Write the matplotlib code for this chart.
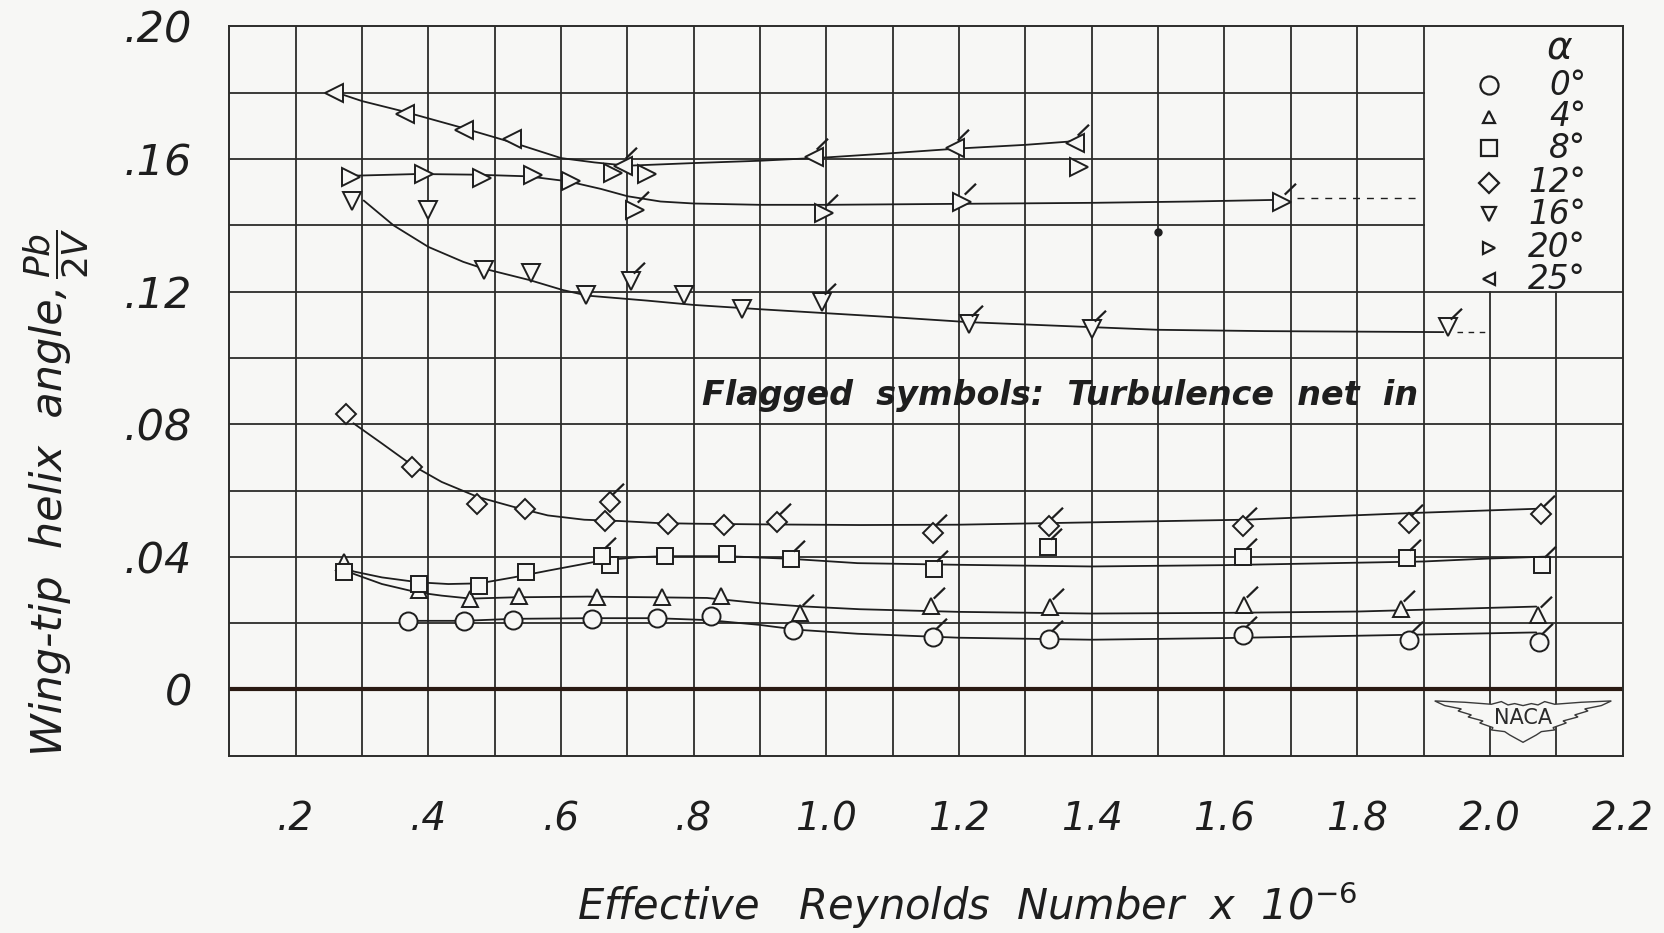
import numpy as np
import matplotlib
matplotlib.use("Agg")
import matplotlib.pyplot as plt
from matplotlib.path import Path
from matplotlib.patches import Polygon

# ------------------------------------------------------------------ data
# Reynolds number (x 10^-6) and wing-tip helix angle pb/2V
# alpha = 0 deg (circles)
a0_x = [0.369, 0.453, 0.527, 0.647, 0.744, 0.826, 0.950]
a0_y = [0.0207, 0.0207, 0.0209, 0.0212, 0.0217, 0.0222, 0.0178]
a0_fx = [1.161, 1.335, 1.628, 1.878, 2.074]
a0_fy = [0.0159, 0.0152, 0.0165, 0.0149, 0.0142]
a0_cx = [0.378, 0.453, 0.528, 0.646, 0.743, 0.823, 0.898, 0.957, 1.047, 1.20, 1.40, 1.60, 1.80, 2.07]
a0_cy = [0.0207, 0.0207, 0.0213, 0.0215, 0.0215, 0.0209, 0.0195, 0.0180, 0.0168, 0.0156, 0.0150, 0.0155, 0.0162, 0.0172]

# alpha = 4 deg (triangles up)
a4_x = [0.273, 0.386, 0.463, 0.537, 0.654, 0.752, 0.841]
a4_y = [0.0385, 0.0300, 0.0273, 0.0283, 0.0280, 0.0278, 0.0283]
a4_fx = [0.960, 1.157, 1.337, 1.630, 1.866, 2.073]
a4_fy = [0.0231, 0.0251, 0.0250, 0.0255, 0.0244, 0.0224]
a4_cx = [0.28, 0.33, 0.383, 0.42, 0.464, 0.53, 0.64, 0.74, 0.82, 0.90, 0.96, 1.05, 1.20, 1.40, 1.60, 1.80, 2.07]
a4_cy = [0.0354, 0.0318, 0.0293, 0.0283, 0.0274, 0.0278, 0.0280, 0.0278, 0.0276, 0.0260, 0.0251, 0.0242, 0.0234, 0.0229, 0.0231, 0.0235, 0.0250]

# alpha = 8 deg (squares)
a8_x = [0.273, 0.386, 0.477, 0.547, 0.673, 0.756, 0.850]
a8_y = [0.0354, 0.0318, 0.0313, 0.0354, 0.0374, 0.0402, 0.0409]
a8_fx = [0.662, 0.946, 1.162, 1.334, 1.628, 1.875, 2.079]
a8_fy = [0.0402, 0.0394, 0.0363, 0.0431, 0.0399, 0.0396, 0.0376]
a8_cx = [0.28, 0.33, 0.386, 0.43, 0.477, 0.528, 0.582, 0.662, 0.716, 0.756, 0.85, 0.946, 1.047, 1.20, 1.40, 1.60, 1.90, 2.00, 2.09]
a8_cy = [0.0359, 0.0338, 0.0323, 0.0318, 0.0320, 0.0338, 0.0359, 0.0389, 0.0399, 0.0402, 0.0402, 0.0394, 0.0381, 0.0376, 0.0371, 0.0375, 0.0386, 0.0395, 0.0401]

# alpha = 12 deg (diamonds)
a12_x = [0.276, 0.375, 0.474, 0.545, 0.666, 0.761, 0.846]
a12_y = [0.0831, 0.0670, 0.0558, 0.0545, 0.0507, 0.0500, 0.0495]
a12_fx = [0.674, 0.925, 1.160, 1.335, 1.628, 1.878, 2.077]
a12_fy = [0.0566, 0.0505, 0.0472, 0.0492, 0.0492, 0.0502, 0.0530]
a12_cx = [0.287, 0.33, 0.375, 0.42, 0.474, 0.528, 0.58, 0.635, 0.69, 0.745, 0.80, 0.90, 1.05, 1.20, 1.34, 1.63, 1.88, 2.07]
a12_cy = [0.0803, 0.0742, 0.0677, 0.0626, 0.0581, 0.0551, 0.0525, 0.0512, 0.0508, 0.0502, 0.0500, 0.0498, 0.0496, 0.0497, 0.0502, 0.0512, 0.0532, 0.0545]

# alpha = 16 deg (triangles down)
a16_x = [0.285, 0.400, 0.484, 0.555, 0.638, 0.785, 0.872]
a16_y = [0.1475, 0.1445, 0.1265, 0.1255, 0.1190, 0.1190, 0.1148]
a16_fx = [0.706, 0.993, 1.215, 1.400, 1.937]
a16_fy = [0.1232, 0.1169, 0.1103, 0.1087, 0.1092]
a16_cx = [0.3025, 0.3475, 0.400, 0.4525, 0.4825, 0.5525, 0.6025, 0.64, 0.73, 0.80, 0.90, 1.00, 1.10, 1.215, 1.40, 1.50, 1.66, 1.93]
a16_cy = [0.1475, 0.1400, 0.1335, 0.1290, 0.1270, 0.1235, 0.1205, 0.1188, 0.1173, 0.1160, 0.1147, 0.1135, 0.1123, 0.1108, 0.1093, 0.1085, 0.1081, 0.1078]
a16_dx = [1.95, 2.00]
a16_dy = [0.1078, 0.1078]

# alpha = 20 deg (triangles right)
a20_x = [0.283, 0.394, 0.481, 0.557, 0.615, 0.679, 0.729, 1.380]
a20_y = [0.1546, 0.1555, 0.1543, 0.1553, 0.1533, 0.1557, 0.1554, 0.1575]
a20_fx = [0.711, 0.997, 1.205, 1.686]
a20_fy = [0.1447, 0.1438, 0.1470, 0.1470]
a20_cx = [0.29, 0.385, 0.47, 0.55, 0.61, 0.66, 0.70, 0.75, 0.80, 0.90, 1.00, 1.20, 1.40, 1.55, 1.68]
a20_cy = [0.1550, 0.1555, 0.1553, 0.1548, 0.1533, 0.1510, 0.1488, 0.1472, 0.1466, 0.1462, 0.1462, 0.1465, 0.1468, 0.1472, 0.1477]
a20_dx = [1.71, 1.89]
a20_dy = [0.1484, 0.1484]

# alpha = 25 deg (triangles left)
a25_x = [0.258, 0.365, 0.454, 0.526]
a25_y = [0.1800, 0.1735, 0.1688, 0.1660]
a25_fx = [0.694, 0.981, 1.194, 1.375]
a25_fy = [0.1578, 0.1605, 0.1632, 0.1650]
a25_cx = [0.27, 0.30, 0.36, 0.45, 0.53, 0.60, 0.65, 0.70, 0.80, 0.90, 1.00, 1.10, 1.20, 1.30, 1.38]
a25_cy = [0.1795, 0.1775, 0.1745, 0.1695, 0.1648, 0.1603, 0.1590, 0.1580, 0.1588, 0.1595, 0.1605, 0.1618, 0.1632, 0.1643, 0.1655]

# stray ink dot on the original sheet
dot_x = [1.50]
dot_y = [0.138]

legend_labels = ["0°", "4°", "8°", "12°", "16°", "20°", "25°"]
x_ticks = [0.2, 0.4, 0.6, 0.8, 1.0, 1.2, 1.4, 1.6, 1.8, 2.0, 2.2]
x_tick_labels = [".2", ".4", ".6", ".8", "1.0", "1.2", "1.4", "1.6", "1.8", "2.0", "2.2"]
y_ticks = [0.0, 0.04, 0.08, 0.12, 0.16, 0.20]
y_tick_labels = ["0", ".04", ".08", ".12", ".16", ".20"]

# ------------------------------------------------------------------ style
BG = "#f7f7f5"
INK = "#1e1e1e"
GRID = "#2c2c2a"
plt.rcParams["font.family"] = ["DejaVu Sans"]
plt.rcParams["mathtext.fontset"] = "dejavusans"
plt.rcParams["mathtext.default"] = "it"

fig = plt.figure(figsize=(16.65, 9.33), dpi=100, facecolor=BG)
ax = fig.add_axes([0.13776, 0.19, 0.83673, 0.7816], facecolor=BG)
ax.set_xlim(0.1, 2.2)
ax.set_ylim(-0.02, 0.20)

# grid (legend corner left blank, as on the original sheet)
for gx in np.arange(0.2, 2.15, 0.1):
    top = 0.20 if gx < 1.95 else 0.12
    ax.plot([gx, gx], [-0.02, top], color=GRID, lw=1.3, zorder=1)
for gy in np.arange(0.02, 0.195, 0.02):
    right = 2.2 if gy < 0.13 else 1.9
    ax.plot([0.1, right], [gy, gy], color=GRID, lw=1.3, zorder=1)
ax.plot([0.1, 2.2], [0.0, 0.0], color="#2a1a12", lw=3.0, zorder=1.5)
for s in ax.spines.values():
    s.set_color(GRID)
    s.set_linewidth(1.4)

flag = Path([(-1, -1), (0.12, 0.42), (0.72, 1.0)], [Path.MOVETO, Path.MOVETO, Path.LINETO])

series = [
    ("o", 13, a0_x, a0_y, a0_fx, a0_fy, a0_cx, a0_cy),
    ("^", 12, a4_x, a4_y, a4_fx, a4_fy, a4_cx, a4_cy),
    ("s", 11, a8_x, a8_y, a8_fx, a8_fy, a8_cx, a8_cy),
    ("D", 10, a12_x, a12_y, a12_fx, a12_fy, a12_cx, a12_cy),
    ("v", 13, a16_x, a16_y, a16_fx, a16_fy, a16_cx, a16_cy),
    (">", 13, a20_x, a20_y, a20_fx, a20_fy, a20_cx, a20_cy),
    ("<", 13.5, a25_x, a25_y, a25_fx, a25_fy, a25_cx, a25_cy),
]
for mk, ms, px, py, fx, fy, cx, cy in series:
    ax.plot(cx, cy, color=INK, lw=1.3, zorder=3, solid_capstyle="round")
    ax.plot(px, py, ls="none", marker=mk, ms=ms, mfc=BG, mec=INK, mew=1.4, zorder=4)
    ax.plot(fx, fy, ls="none", marker=mk, ms=ms, mfc=BG, mec=INK, mew=1.4, zorder=4)
    ax.plot(fx, fy, ls="none", marker=flag, ms=27, mfc="none", mec=INK, mew=1.6, zorder=5)

ax.plot(a16_dx, a16_dy, color=INK, lw=1.0, ls=(0, (4, 4)), zorder=3)
ax.plot(a20_dx, a20_dy, color=INK, lw=1.0, ls=(0, (5, 5)), zorder=3)
ax.plot(dot_x, dot_y, ls="none", marker="o", ms=5, color=INK, zorder=3)

# legend block
leg_marks = [("o", 13), ("^", 9), ("s", 11.5), ("D", 10.5), ("v", 9.5), (">", 8.5), ("<", 8.5)]
leg_y = [0.1823, 0.1728, 0.1632, 0.1528, 0.1433, 0.1333, 0.1237]
for (mk, ms), ly, lab in zip(leg_marks, leg_y, legend_labels):
    ax.plot([1.998], [ly], ls="none", marker=mk, ms=ms, mfc=BG, mec=INK, mew=1.6, zorder=4)
    ax.text(2.145, ly, lab, ha="right", va="center", fontsize=23.5, style="italic", color=INK)
ax.text(2.105, 0.1935, "α", ha="center", va="center", fontsize=28, style="italic", color=INK)

ax.text(1.352, 0.0886, "Flagged  symbols:  Turbulence  net  in", ha="center", va="center",
        fontsize=24, style="italic", weight="bold", color=INK)

# NACA emblem
half = [(425, 72), (450, 66), (470, 70), (490, 60), (520, 68), (600, 62), (690, 58),
        (660, 72), (610, 82), (620, 88), (580, 100), (590, 106), (545, 118), (555, 124),
        (515, 138), (520, 145), (480, 150), (465, 160), (425, 182)]
pts = half + [(850 - zx, zy) for zx, zy in reversed(half[:-1])]
logo = [(2.05 + (zx - 425) / 3 * 0.001507, -0.0087 - (zy - 110) / 3 * 0.000302) for zx, zy in pts]
ax.add_patch(Polygon(logo, closed=True, fc=BG, ec="#3a3a3a", lw=1.0, zorder=2))
ax.text(2.05, -0.0087, "NACA", ha="center", va="center", fontsize=15, color="#2a2a2a", zorder=3)

# ticks
ax.set_xticks(x_ticks)
ax.set_xticklabels(x_tick_labels, fontsize=28, style="italic", color=INK)
ax.set_yticks(y_ticks)
ax.set_yticklabels(y_tick_labels, fontsize=31, style="italic", color=INK)
ax.tick_params(axis="x", length=0, pad=32)
ax.tick_params(axis="y", length=0, pad=27)

fig.text(0.581, 0.030, r"Effective   Reynolds  Number  x  10$^{-6}$", ha="center", va="center",
         fontsize=30, style="italic", color=INK)

ylab = fig.text(0.030, 0.19, "Wing-tip  helix  angle,", ha="center", va="bottom",
                rotation=90, fontsize=31, style="italic", color=INK)
fig.canvas.draw()
bb = ylab.get_window_extent(renderer=fig.canvas.get_renderer())
top_frac = bb.y1 / fig.bbox.height
fig.text(0.034, top_frac + 0.006, r"$\dfrac{Pb}{2V}$", ha="center", va="bottom",
         rotation=90, fontsize=26, color=INK)

fig.savefig("out.png", dpi=100, facecolor=BG)
